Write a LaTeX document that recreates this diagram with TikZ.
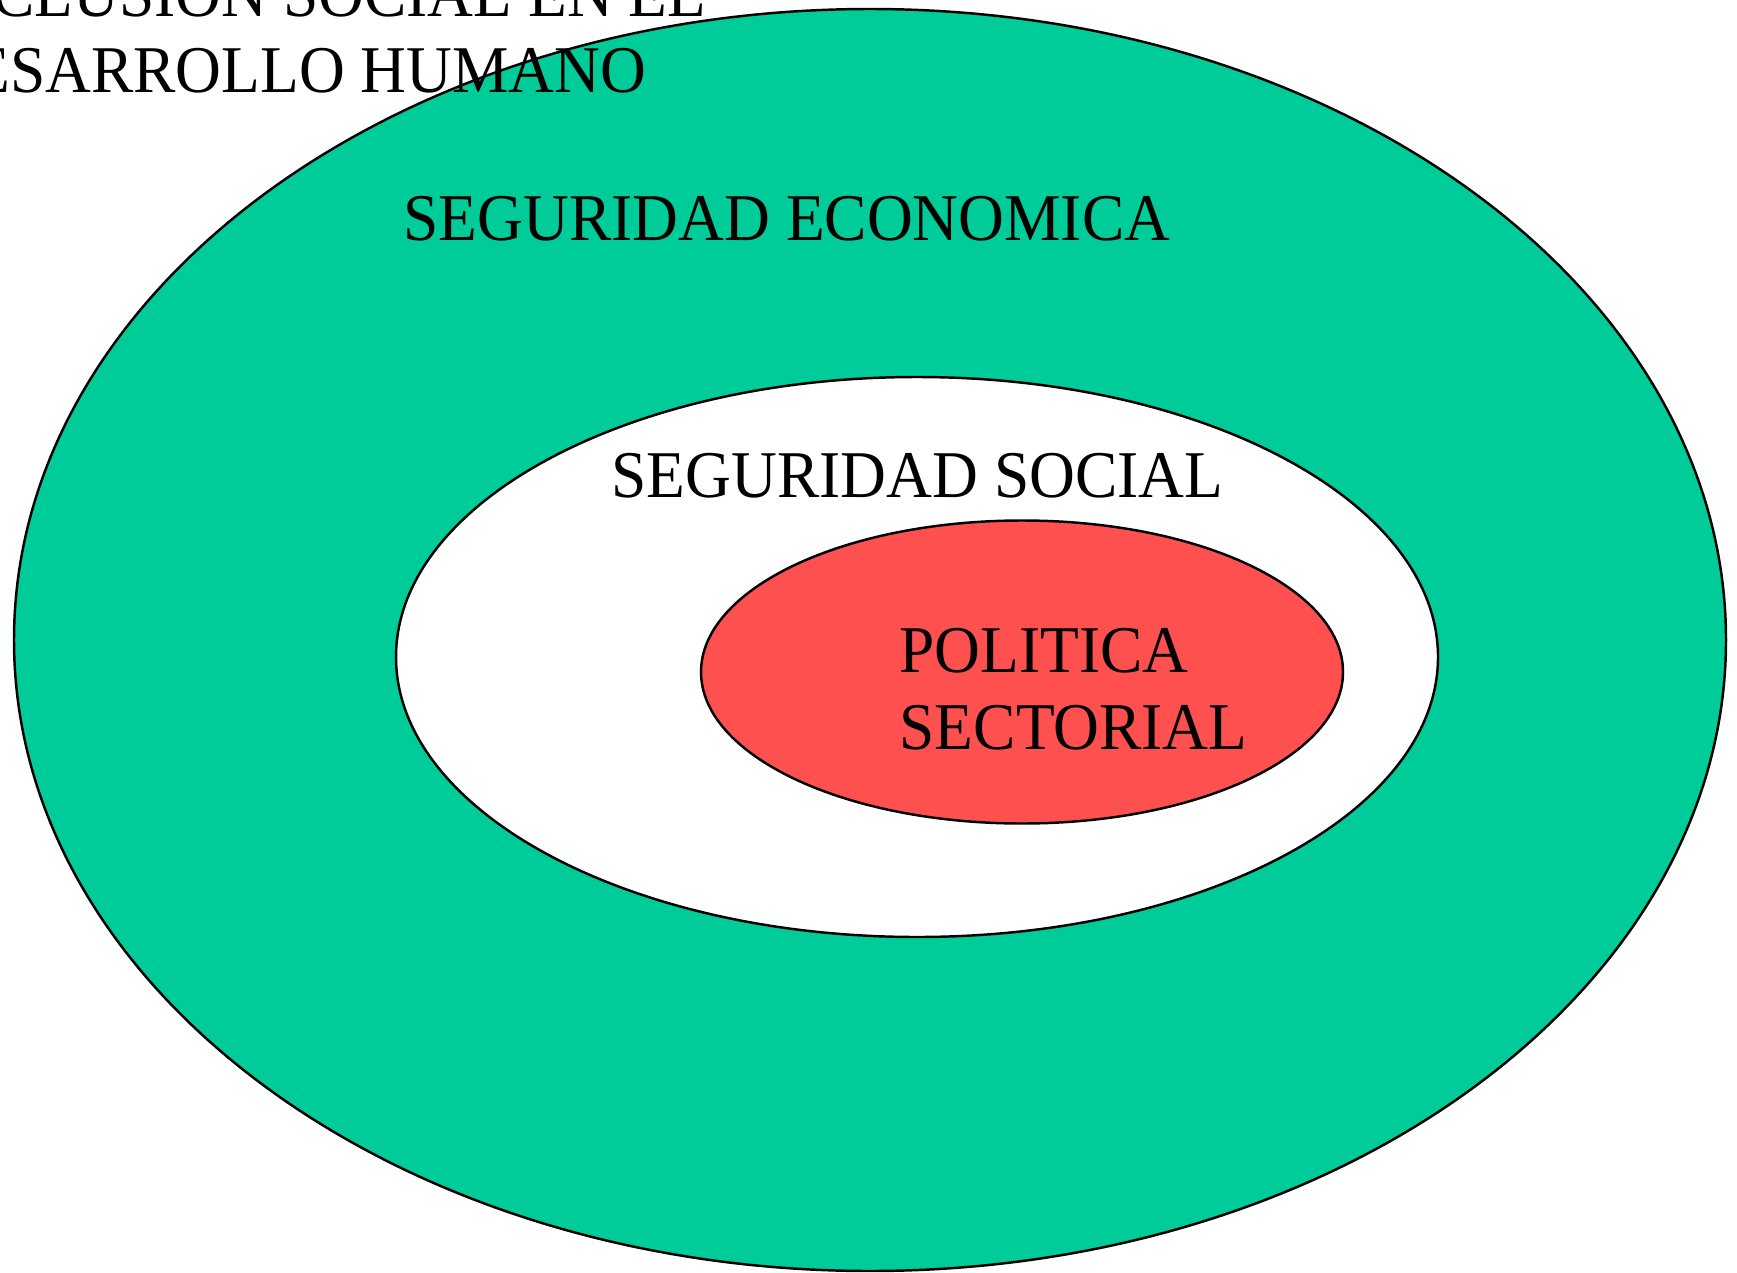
\documentclass[tikz,border=0pt]{standalone}
\usepackage{fontspec}
\setmainfont{Liberation Serif}[FakeStretch=0.95]
\usetikzlibrary{positioning}
\definecolor{mintgreen}{RGB}{0,204,153}
\definecolor{salmonred}{RGB}{255,80,80}

\begin{document}
\begin{tikzpicture}[x=0.1mm,y=-0.1mm,
  ring/.style={draw=black,line width=0.7pt},
  lbl/.style={font=\fontsize{19}{21.7}\selectfont,inner sep=0pt,anchor=base west,align=left}]
\useasboundingbox (0,0) rectangle (1737,1272);
\fill[white] (0,0) rectangle (1737,1272);
% three nested rings
\draw[ring,fill=mintgreen] (870,640) ellipse [x radius=85.6mm,y radius=63.1mm];
\draw[ring,fill=white] (917,657) ellipse [x radius=52.1mm,y radius=28.0mm];
\draw[ring,fill=salmonred] (1022,672) ellipse [x radius=32.1mm,y radius=15.15mm];
% labels (base = last line)
\node[lbl] (economica) at (403,240) {SEGURIDAD ECONOMICA};
\node[lbl] (social) at (611,497) {SEGURIDAD SOCIAL};
\node[lbl] (sectorial) at (899,749) {POLITICA\\SECTORIAL};
\node[lbl] (titulo) at (-75,93) {INCLUSION SOCIAL EN EL\\DESARROLLO HUMANO};
\end{tikzpicture}
\end{document}
